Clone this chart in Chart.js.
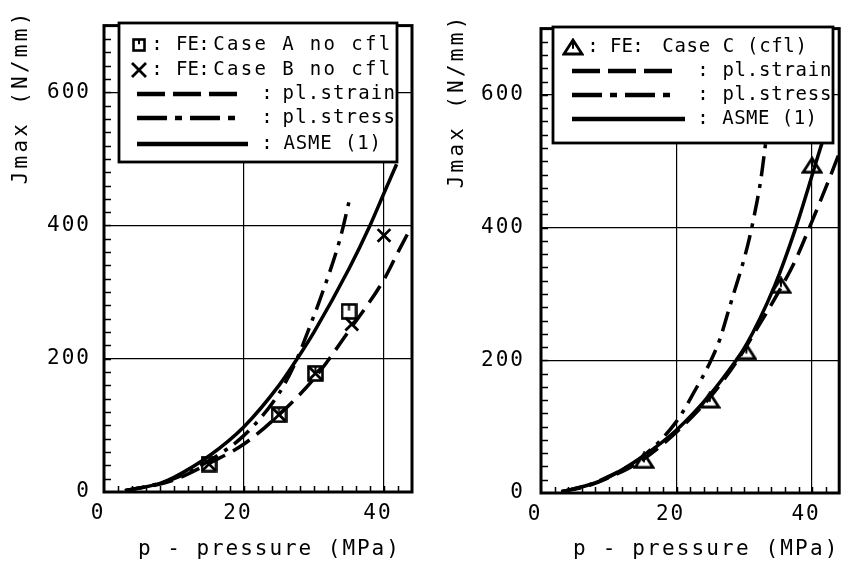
<!DOCTYPE html>
<html>
<head>
<meta charset="utf-8">
<script src="https://cdn.jsdelivr.net/npm/chart.js@4.4.0/dist/chart.umd.min.js"></script>
<style>
html, body { margin: 0; padding: 0; background: #fff; }
#wrap { position: relative; width: 851px; height: 564px; overflow: hidden; }
#left { position: absolute; left: 0; top: 0; }
#right { position: absolute; left: 430px; top: 0; }
</style>
</head>
<body>
<div id="wrap">
  <canvas id="left" width="430" height="564"></canvas>
  <canvas id="right" width="421" height="564"></canvas>
</div>
<script>
// Left panel: FE results for cases A and B, plus estimates
const caseA_p = [15, 25, 30.2, 35];
const caseA_J = [42, 116, 178, 271];
const caseB_p = [15, 25, 30.2, 35.4, 40];
const caseB_J = [42, 116, 178, 252, 385];
const leftStrain_p = [3, 8, 10, 15, 20, 25, 30, 35, 40, 42, 44];
const leftStrain_J = [2, 12, 18, 43, 72, 116, 170, 242, 319, 360, 400];
const leftStress_p = [3, 8, 10, 15, 20, 25, 27.5, 29.1, 31.3, 33.7, 35.1];
const leftStress_J = [2, 13, 20, 47, 85, 148, 198, 240, 302, 379, 440];
const leftAsme_p = [3, 8, 10, 15, 20, 25, 27.6, 30, 35, 38, 40.1, 41.8];
const leftAsme_J = [2, 13, 22, 54, 98, 160, 200, 240, 335, 400, 451, 492];

// Right panel: FE result for case C, plus estimates
const caseC_p = [15.2, 24.9, 30.3, 35.4, 40];
const caseC_J = [49, 140, 213, 313, 494];
const rightStrain_p = [3, 7, 10, 15, 20, 25, 29, 32, 35, 37.5, 39.6, 42.4, 44];
const rightStrain_J = [2, 11, 23, 50, 92, 145, 200, 250, 302, 350, 400, 470, 512];
const rightStress_p = [3, 7, 10, 15, 20, 22.8, 24.9, 26.4, 27.5, 28.5, 29.7, 30.7, 31.5, 32.4, 33.3];
const rightStress_J = [2, 12, 25, 55, 108, 156, 196, 232, 269, 303, 343, 382, 420, 470, 540];
const rightAsme_p = [3, 7, 10, 15, 20, 25, 28.8, 30, 34.5, 37.6, 40.9, 42];
const rightAsme_J = [2, 12, 24, 55, 95, 149, 200, 218, 313, 400, 509, 545];

// Axes
const pTicks = [0, 20, 40];
const jTicks = [0, 200, 400, 600];
const pMax = 44;
const jMax = 700;
const pMinorStep = 2;
const jMinorStep = 20;

const xTitle = 'p - pressure (MPa)';
const yTitle = 'Jmax (N/mm)';
const leftLabels = ['FE: Case A no cfl', 'FE: Case B no cfl', 'pl.strain', 'pl.stress', 'ASME (1)'];
const rightLabels = ['FE: Case C (cfl)', 'pl.strain', 'pl.stress', 'ASME (1)'];

const FONT = "'DejaVu Sans Mono', monospace";
const DASH = [20, 9];
const DASHDOT = [20, 8, 4, 8];

// Marker images
function makeSquare(size) {
    const c = document.createElement('canvas');
    c.width = size; c.height = size;
    const g = c.getContext('2d');
    g.strokeStyle = '#000';
    g.lineWidth = 2.6;
    g.strokeRect(1.5, 1.5, size - 3, size - 3);
    g.lineWidth = 2;
    g.beginPath();
    g.moveTo(size / 2, 2);
    g.lineTo(size / 2, size * 0.45);
    g.stroke();
    return c;
}

function makeTriangle(w, h) {
    const c = document.createElement('canvas');
    c.width = w; c.height = h;
    const g = c.getContext('2d');
    g.strokeStyle = '#000';
    g.lineWidth = 2.8;
    g.beginPath();
    g.moveTo(w / 2, 2);
    g.lineTo(w - 2, h - 2);
    g.lineTo(2, h - 2);
    g.closePath();
    g.stroke();
    g.lineWidth = 2;
    g.beginPath();
    g.moveTo(w / 2, 3);
    g.lineTo(w / 2, h * 0.6);
    g.stroke();
    return c;
}

const squareImg = makeSquare(17);
const squareSmall = makeSquare(14);
const triangleImg = makeTriangle(22, 18);

function pts(ps, js) {
    return ps.map((p, i) => ({ x: p, y: js[i] }));
}

function curve(ps, js, dash) {
    return {
        data: pts(ps, js),
        showLine: true,
        borderColor: '#000',
        borderWidth: 3.5,
        borderDash: dash,
        pointRadius: 0,
        cubicInterpolationMode: 'monotone',
        fill: false
    };
}

function marks(ps, js, style, radius) {
    return {
        data: pts(ps, js),
        showLine: false,
        pointStyle: style,
        pointRadius: radius,
        borderColor: '#000',
        borderWidth: 2.8,
        backgroundColor: 'rgba(0,0,0,0)'
    };
}

// Draw text as evenly spaced character cells (plotter-like)
function drawCells(ctx, text, x, y, cell) {
    for (let i = 0; i < text.length; i++) {
        ctx.fillText(text[i], x + cell * (i + 0.5), y);
    }
}

function drawLineSample(ctx, x0, x1, y, dash) {
    ctx.save();
    ctx.lineWidth = 4.5;
    ctx.setLineDash(dash);
    ctx.beginPath();
    ctx.moveTo(x0, y);
    ctx.lineTo(x1, y);
    ctx.stroke();
    ctx.restore();
}

function drawX(ctx, cx, cy, r) {
    ctx.save();
    ctx.lineWidth = 2.8;
    ctx.beginPath();
    ctx.moveTo(cx - r, cy - r); ctx.lineTo(cx + r, cy + r);
    ctx.moveTo(cx + r, cy - r); ctx.lineTo(cx - r, cy + r);
    ctx.stroke();
    ctx.restore();
}

// Frame, minor ticks, titles and legend box
function decorPlugin(geo) {
    return {
        id: 'decor',
        beforeDraw(chart) {
            chart.ctx.letterSpacing = '2px';
        },
        afterDatasetsDraw(chart) {
            const ctx = chart.ctx;
            const a = chart.chartArea;
            const xs = chart.scales.x, ys = chart.scales.y;
            ctx.save();
            ctx.letterSpacing = '0px';
            ctx.strokeStyle = '#000';
            ctx.fillStyle = '#000';

            // minor ticks
            ctx.lineWidth = 1.5;
            ctx.beginPath();
            for (let p = pMinorStep; p < pMax; p += pMinorStep) {
                const x = Math.round(xs.getPixelForValue(p)) + 0.5;
                ctx.moveTo(x, a.bottom);
                ctx.lineTo(x, a.bottom - 6);
            }
            for (let j = jMinorStep; j < jMax; j += jMinorStep) {
                const y = Math.round(ys.getPixelForValue(j)) + 0.5;
                ctx.moveTo(a.left, y);
                ctx.lineTo(a.left + 7, y);
            }
            ctx.stroke();

            // frame
            ctx.lineWidth = 3;
            ctx.strokeRect(a.left, a.top, a.right - a.left, a.bottom - a.top);

            // legend box
            const b = geo.box;
            ctx.fillStyle = '#fff';
            ctx.fillRect(b[0], b[1], b[2] - b[0], b[3] - b[1]);
            ctx.lineWidth = 2.8;
            ctx.strokeRect(b[0], b[1], b[2] - b[0], b[3] - b[1]);
            ctx.fillStyle = '#000';

            ctx.font = '19px ' + FONT;
            ctx.textAlign = 'center';
            ctx.textBaseline = 'middle';
            geo.rows.forEach((r, i) => {
                const label = geo.labels[i];
                if (r.kind === 'square') {
                    ctx.drawImage(squareSmall, r.mx - 7, r.y - 7);
                } else if (r.kind === 'x') {
                    drawX(ctx, r.mx, r.y, 7);
                } else if (r.kind === 'tri') {
                    ctx.drawImage(triangleImg, r.mx - 11, r.y - 9);
                } else {
                    drawLineSample(ctx, r.x0, r.x1, r.y, r.dash);
                }
                drawCells(ctx, ':', r.colon - 6, r.y, 12);
                if (label.startsWith('FE:')) {
                    drawCells(ctx, 'FE', r.tx, r.y, 11.5);
                    drawCells(ctx, ':', r.tx + 22, r.y, 12);
                    drawCells(ctx, label.slice(4), r.tx2, r.y, r.cell);
                } else {
                    drawCells(ctx, label, r.tx, r.y, r.cell);
                }
            });
            ctx.restore();
        },
        afterDraw(chart) {
            const ctx = chart.ctx;
            ctx.save();
            ctx.letterSpacing = '0px';
            ctx.fillStyle = '#000';
            ctx.font = '21px ' + FONT;
            ctx.textAlign = 'center';
            ctx.textBaseline = 'middle';
            drawCells(ctx, xTitle, geo.xt[0], geo.xt[1], geo.xt[2]);
            ctx.translate(geo.yt[0], geo.yt[1]);
            ctx.rotate(-Math.PI / 2);
            drawCells(ctx, yTitle, 0, 0, geo.yt[2]);
            ctx.restore();
        }
    };
}

function makeChart(id, datasets, geo) {
    const ctx = document.getElementById(id).getContext('2d');
    return new Chart(ctx, {
        type: 'scatter',
        data: { datasets: datasets },
        options: {
            responsive: false,
            animation: false,
            events: [],
            layout: { padding: geo.padding },
            plugins: {
                legend: { display: false },
                tooltip: { enabled: false }
            },
            scales: {
                x: {
                    type: 'linear',
                    min: 0,
                    max: pMax,
                    afterBuildTicks: s => { s.ticks = pTicks.map(v => ({ value: v })); },
                    afterFit: s => { s.height = geo.xHeight; },
                    grid: { color: '#000', lineWidth: 1.2, drawTicks: false },
                    border: { display: false },
                    ticks: {
                        color: '#000',
                        font: { family: FONT, size: 21 },
                        padding: 9,
                        labelOffset: -6,
                        maxRotation: 0
                    }
                },
                y: {
                    type: 'linear',
                    min: 0,
                    max: jMax,
                    afterBuildTicks: s => { s.ticks = jTicks.map(v => ({ value: v })); },
                    afterFit: s => { s.width = geo.yWidth; },
                    grid: { color: '#000', lineWidth: 1.2, drawTicks: false },
                    border: { display: false },
                    ticks: {
                        color: '#000',
                        font: { family: FONT, size: 21 },
                        padding: geo.yPad
                    }
                }
            }
        },
        plugins: [decorPlugin(geo)]
    });
}

makeChart('left', [
    marks(caseA_p, caseA_J, squareImg, 8),
    marks(caseB_p, caseB_J, 'crossRot', 9),
    curve(leftAsme_p, leftAsme_J, []),
    curve(leftStress_p, leftStress_J, DASHDOT),
    curve(leftStrain_p, leftStrain_J, DASH)
], {
    padding: { left: 0, top: 8, right: 18, bottom: 0 },
    yWidth: 104,
    xHeight: 72,
    yPad: 13,
    xt: [137, 550, 14.6],
    yt: [22, 186, 15.9],
    box: [119, 23, 397, 162],
    labels: leftLabels,
    rows: [
        { kind: 'square', y: 45, mx: 139, colon: 157, tx: 176, tx2: 212, cell: 13.8 },
        { kind: 'x', y: 70, mx: 139, colon: 157, tx: 176, tx2: 212, cell: 13.8 },
        { kind: 'line', y: 94, x0: 137, x1: 237, dash: [28, 8], colon: 267, tx: 282, cell: 12.6 },
        { kind: 'line', y: 118, x0: 137, x1: 237, dash: [30, 8, 7, 8], colon: 267, tx: 282, cell: 12.6 },
        { kind: 'line', y: 144, x0: 137, x1: 248, dash: [], colon: 267, tx: 283, cell: 12.3 }
    ]
});

makeChart('right', [
    marks(caseC_p, caseC_J, triangleImg, 9),
    curve(rightAsme_p, rightAsme_J, []),
    curve(rightStress_p, rightStress_J, DASHDOT),
    curve(rightStrain_p, rightStrain_J, DASH)
], {
    padding: { left: 0, top: 12, right: 4, bottom: 0 },
    yWidth: 111,
    xHeight: 71,
    yPad: 16,
    xt: [142, 550, 14.8],
    yt: [28, 190, 15.9],
    box: [123, 27, 403, 143],
    labels: rightLabels,
    rows: [
        { kind: 'tri', y: 47, mx: 143, colon: 163, tx: 180, tx2: 232, cell: 12.1 },
        { kind: 'line', y: 71, x0: 142, x1: 243, dash: [28, 8], colon: 273, tx: 292, cell: 12.2 },
        { kind: 'line', y: 95, x0: 142, x1: 243, dash: [30, 8, 7, 8], colon: 273, tx: 292, cell: 12.2 },
        { kind: 'line', y: 119, x0: 142, x1: 255, dash: [], colon: 273, tx: 292, cell: 11.9 }
    ]
});
</script>
</body>
</html>
